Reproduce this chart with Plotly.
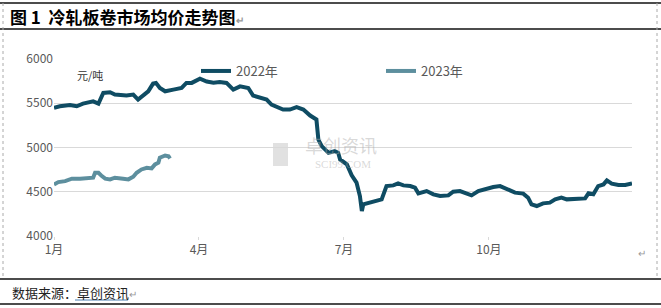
import plotly.graph_objects as go

# ---- data (x in months since Jan 1; values in 元/吨) ----
months_2022 = [0, 0.12, 0.33, 0.47, 0.6, 0.81, 0.92, 1.02, 1.16, 1.26, 1.5, 1.64, 1.74, 1.85,
               1.95, 2.05, 2.11, 2.19, 2.3, 2.47, 2.64, 2.74, 2.85, 3.02, 3.16, 3.3, 3.43,
               3.57, 3.71, 3.85, 4.02, 4.12, 4.26, 4.4, 4.5, 4.74, 4.88, 5.02, 5.16, 5.3,
               5.43, 5.47, 5.54, 5.68, 5.81, 5.88, 5.92, 6.06, 6.16, 6.26, 6.33, 6.37, 6.4,
               6.54, 6.6, 6.68, 6.78, 6.88, 7.02, 7.12, 7.23, 7.37, 7.47, 7.54, 7.71, 7.85,
               7.99, 8.16, 8.26, 8.4, 8.5, 8.64, 8.78, 8.95, 9.09, 9.23, 9.37, 9.54, 9.71,
               9.81, 9.88, 9.99, 10.12, 10.26, 10.37, 10.5, 10.61, 10.81, 10.99, 11.06,
               11.16, 11.26, 11.37, 11.44, 11.54, 11.68, 11.82, 11.96]
price_2022 = [5448, 5466, 5481, 5466, 5496, 5522, 5496, 5617, 5624, 5598, 5587, 5598, 5541, 5587,
              5635, 5722, 5730, 5673, 5635, 5654, 5673, 5730, 5730, 5778, 5745, 5733, 5741,
              5730, 5654, 5691, 5673, 5587, 5560, 5541, 5485, 5429, 5429, 5455, 5429, 5361,
              5316, 5090, 5015, 4940, 4959, 4940, 4865, 4809, 4685, 4603, 4451, 4282, 4358,
              4377, 4384, 4403, 4414, 4564, 4572, 4594, 4572, 4564, 4546, 4482, 4508, 4471,
              4452, 4459, 4501, 4508, 4490, 4459, 4508, 4535, 4553, 4564, 4527, 4490, 4479,
              4433, 4358, 4339, 4369, 4377, 4414, 4433, 4414, 4425, 4425, 4482,
              4471, 4564, 4583, 4628, 4591, 4576, 4576, 4594]

months_2023 = [0, 0.09, 0.23, 0.37, 0.54, 0.74, 0.81, 0.85, 0.92, 0.99, 1.06, 1.16, 1.26, 1.43,
               1.54, 1.64, 1.71, 1.81, 1.92, 2.02, 2.09, 2.16, 2.19, 2.3, 2.37, 2.4]
price_2023 = [4583, 4609, 4620, 4648, 4648, 4648, 4659, 4715, 4715, 4677, 4648, 4640, 4659, 4648,
              4640, 4670, 4715, 4752, 4771, 4764, 4809, 4828, 4884, 4910, 4902, 4876]

tick_vals = [0, 3, 6, 9]
tick_text = ["1月", "4月", "7月", "10月"]
y_ticks = [4000, 4500, 5000, 5500, 6000]

W, H = 661, 308
L, R, T, B = 54, 29, 59, 72
PW, PH = W - L - R, H - T - B


def px(x):
    return (x - L) / PW


def py(y):
    return (H - B - y) / PH


FONT = "Noto Sans CJK SC"
fig = go.Figure()
fig.add_trace(go.Scatter(x=months_2022, y=price_2022, mode="lines", name="2022年",
                         line=dict(color="#0f4c63", width=4)))
fig.add_trace(go.Scatter(x=months_2023, y=price_2023, mode="lines", name="2023年",
                         line=dict(color="#5d8f9e", width=4)))

fig.update_layout(
    width=W, height=H, margin=dict(l=L, r=R, t=T, b=B),
    paper_bgcolor="white", plot_bgcolor="white",
    font=dict(family=FONT, size=12, color="#595959"),
    xaxis=dict(range=[0, 11.96], tickvals=tick_vals, ticktext=tick_text,
               showgrid=False, zeroline=False, showline=False,
               ticks="outside", ticklen=3, tickcolor="#d9d9d9",
               tickfont=dict(size=12, color="#595959")),
    yaxis=dict(range=[4000, 6000], tickvals=y_ticks, showgrid=True, gridcolor="#d9d9d9",
               gridwidth=1, zeroline=False, showline=False, ticks="",
               tickfont=dict(size=12, color="#595959")),
    showlegend=True,
    legend=dict(orientation="h", x=px(196), y=py(71), xanchor="left", yanchor="middle",
                entrywidth=140, entrywidthmode="pixels", bgcolor="rgba(0,0,0,0)",
                font=dict(size=13, color="#595959"), itemwidth=30),
)

ann = []
ann.append(dict(text="图 1  冷轧板卷市场均价走势图<span style='color:#999;font-size:10px'>↵</span>",
                x=px(8), y=py(17), xref="paper", yref="paper", xanchor="left",
                yanchor="middle", showarrow=False,
                font=dict(family=FONT, size=17, color="black", weight="bold")))
ann.append(dict(text="元/吨", x=px(75), y=py(75), xref="paper", yref="paper",
                xanchor="left", yanchor="middle", showarrow=False,
                font=dict(size=11, color="#333")))
ann.append(dict(text="数据来源：卓创资讯<span style='color:#999;font-size:10px'>↵</span>",
                x=px(10), y=py(292), xref="paper", yref="paper", xanchor="left",
                yanchor="middle", showarrow=False,
                font=dict(size=13, color="#222")))
ann.append(dict(text="↵", x=px(648), y=py(262), xref="paper", yref="paper",
                showarrow=False, font=dict(size=10, color="#999")))
# watermark
ann.append(dict(text="卓创资讯", x=px(341), y=py(145), xref="paper", yref="paper",
                showarrow=False, font=dict(size=18, color="rgba(170,170,170,0.45)")))
ann.append(dict(text="SCI99.COM", x=px(343), y=py(164), xref="paper", yref="paper",
                showarrow=False, font=dict(family="Liberation Serif", size=11,
                                           color="rgba(170,170,170,0.45)")))
fig.update_layout(annotations=ann)

shapes = []
line_dark = dict(color="#111", width=1.3)
shapes.append(dict(type="line", xref="paper", yref="paper", x0=px(0), x1=px(661),
                   y0=py(3), y1=py(3), line=line_dark))
shapes.append(dict(type="line", xref="paper", yref="paper", x0=px(0), x1=px(661),
                   y0=py(29), y1=py(29), line=line_dark))
shapes.append(dict(type="line", xref="paper", yref="paper", x0=px(0), x1=px(661),
                   y0=py(279), y1=py(279), line=dict(color="#111", width=1.6)))
shapes.append(dict(type="line", xref="paper", yref="paper", x0=px(0), x1=px(661),
                   y0=py(304), y1=py(304), line=line_dark))
for xx in (3, 657):
    shapes.append(dict(type="line", xref="paper", yref="paper", x0=px(xx), x1=px(xx),
                       y0=py(3), y1=py(279), line=dict(color="#aaa", width=1, dash="dot")))
# underline of source link
shapes.append(dict(type="line", xref="paper", yref="paper", x0=px(75), x1=px(128),
                   y0=py(300), y1=py(300), line=dict(color="#4a7fb0", width=1)))
# watermark logo block
shapes.append(dict(type="rect", xref="paper", yref="paper", x0=px(273), x1=px(288),
                   y0=py(143), y1=py(166), fillcolor="rgba(170,170,170,0.35)",
                   line=dict(width=0), layer="below"))
fig.update_layout(shapes=shapes)

fig.write_html("out.html")
